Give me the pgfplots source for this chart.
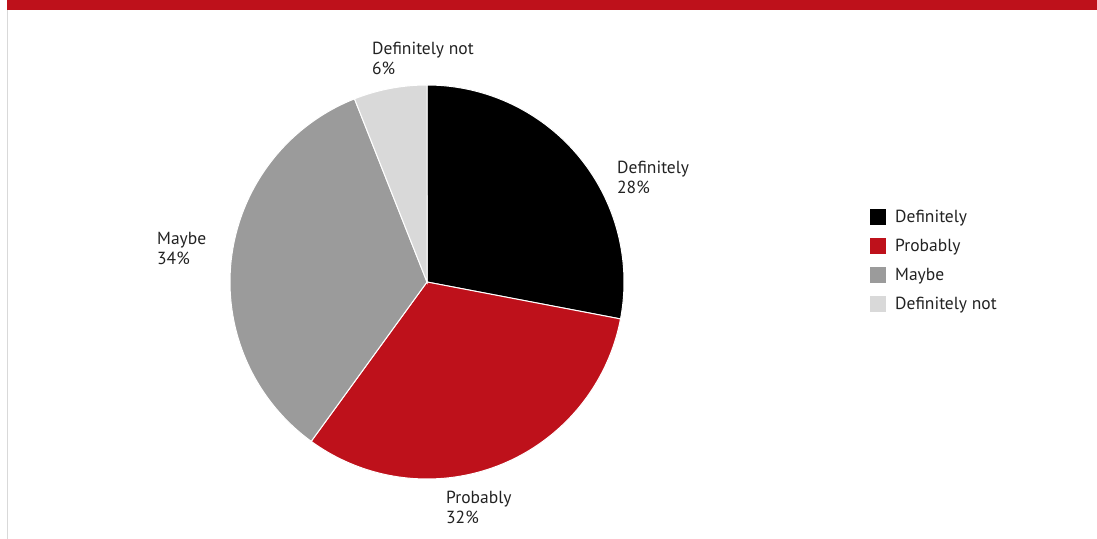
\documentclass[border=0pt]{standalone}
\usepackage{pgfplots}
\usepackage{pgfplotstable}
\pgfplotsset{compat=1.18}
\usepackage{fontspec}
\setmainfont{PT Sans}
\definecolor{cred}{RGB}{190,17,27}
\definecolor{cgray}{RGB}{155,155,155}
\definecolor{clight}{RGB}{217,217,217}
\definecolor{ctext}{RGB}{34,34,34}
\pgfplotstableread{
idx value
0 28
1 32
2 34
3 6
}\piedata
\begin{document}
\begin{tikzpicture}
\pgfplotstablegetelem{0}{value}\of\piedata \let\vA\pgfplotsretval
\pgfplotstablegetelem{1}{value}\of\piedata \let\vB\pgfplotsretval
\pgfplotstablegetelem{2}{value}\of\piedata \let\vC\pgfplotsretval
\pgfplotstablegetelem{3}{value}\of\piedata \let\vD\pgfplotsretval
\pgfmathsetmacro\aO{90}
\pgfmathsetmacro\aI{\aO-3.6*\vA}
\pgfmathsetmacro\aII{\aI-3.6*\vB}
\pgfmathsetmacro\aIII{\aII-3.6*\vC}
\pgfmathsetmacro\aIV{\aIII-3.6*\vD}
\begin{axis}[
  name=ax,
  width=1097bp, height=539bp, scale only axis,
  xmin=0, xmax=1097, ymin=0, ymax=539,
  hide axis, clip=false,
  legend cell align=left,
  legend style={draw=none, fill=none, at={(axis cs:870,331)}, anchor=north west,
    font=\fontsize{17.5bp}{20bp}\selectfont\color{ctext}, inner sep=0pt, row sep=11bp},
  legend image code/.code={\fill[#1, draw=none] (0bp,-8bp) rectangle (16bp,8bp); \path[draw=none, fill=none] (0bp,0bp) -- (23bp,0bp);},
]
\addplot[fill=black, draw=white, line width=1pt, domain=\aI:\aO, samples=80, variable=\t]
  ({427+197*cos(\t)},{257+197*sin(\t)}) -- (427,257) -- cycle;
\addlegendentry{Definitely}
\addplot[fill=cred, draw=white, line width=1pt, domain=\aII:\aI, samples=80, variable=\t]
  ({427+197*cos(\t)},{257+197*sin(\t)}) -- (427,257) -- cycle;
\addlegendentry{Probably}
\addplot[fill=cgray, draw=white, line width=1pt, domain=\aIII:\aII, samples=80, variable=\t]
  ({427+197*cos(\t)},{257+197*sin(\t)}) -- (427,257) -- cycle;
\addlegendentry{Maybe}
\addplot[fill=clight, draw=white, line width=1pt, domain=\aIV:\aIII, samples=30, variable=\t]
  ({427+197*cos(\t)},{257+197*sin(\t)}) -- (427,257) -- cycle;
\addlegendentry{Definitely not}
\fill[cred] (axis cs:7,529) rectangle (axis cs:1097,539);
\draw[clight, line width=1.5bp] (axis cs:7.5,0) -- (axis cs:7.5,529);
\begin{scope}[every node/.style={anchor=north west, inner sep=0pt, align=left,
   font=\fontsize{17.5bp}{20bp}\selectfont, text=ctext}]
\node at (axis cs:617,378) {Definitely\\28\%};
\node at (axis cs:372,497) {Definitely not\\6\%};
\node at (axis cs:157,307) {Maybe\\34\%};
\node at (axis cs:446,48) {Probably\\32\%};
\end{scope}
\end{axis}
\pgfresetboundingbox
\path (ax.south west) rectangle (ax.north east);
\end{tikzpicture}
\end{document}
